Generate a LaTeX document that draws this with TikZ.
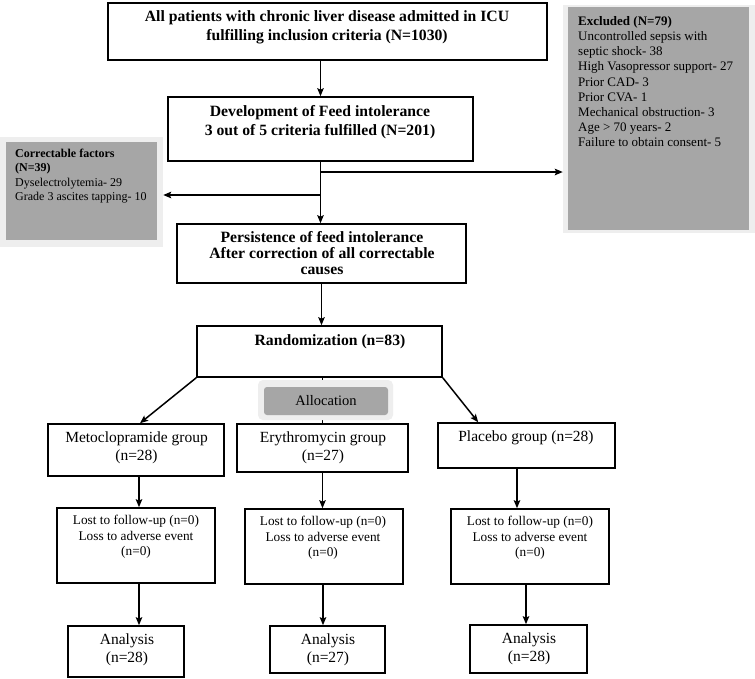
\documentclass[tikz,border=0pt]{standalone}
\usepackage{fontspec}
\setmainfont{Liberation Serif}
\usetikzlibrary{arrows.meta,calc}
\definecolor{boxgray}{HTML}{A6A6A6}
\definecolor{framegray}{HTML}{EEEEEE}
\begin{document}
\begin{tikzpicture}[x=1pt,y=-1pt,
  box/.style={draw, line width=1.6pt, inner sep=0pt},
  arr/.style={line width=1.5pt, -{Stealth[length=8pt,width=6.5pt,inset=1.5pt]}},
  ln/.style={line width=1.5pt},
  framebox/.style={fill=framegray, draw=none, inner sep=0pt},
  graybox/.style={fill=boxgray, draw=none, inner sep=0pt},
  hb/.style={font=\fontsize{15.7}{19}\selectfont\bfseries, align=center, inner sep=0pt},
  hp/.style={font=\fontsize{15.7}{16}\selectfont\bfseries, align=center, inner sep=0pt},
  tg/.style={font=\fontsize{15.5}{18}\selectfont, align=center, inner sep=0pt},
  tl/.style={font=\fontsize{13.3}{15.5}\selectfont, align=center, inner sep=0pt},
  ts/.style={font=\fontsize{13}{15.2}\selectfont, align=left, inner sep=0pt, anchor=north west},
  tc/.style={font=\fontsize{12}{14.5}\selectfont, align=left, inner sep=0pt, anchor=north west},
  ta/.style={font=\fontsize{14.5}{17}\selectfont, inner sep=0pt}
]
\useasboundingbox[fill=white] (0,0) rectangle (755,678);

% main boxes
\node[box, minimum width=439pt, minimum height=57pt] (top) at (327.5,31.5) {};
\node[hb] at (327,27.5) {All patients with chronic liver disease admitted in ICU\\fulfilling inclusion criteria (N=1030)};

\node[box, minimum width=305pt, minimum height=64pt] (dev) at (320.5,129) {};
\node[hb] at (320,122.5) {Development of Feed intolerance\\3 out of 5 criteria fulfilled (N=201)};

\node[box, minimum width=289pt, minimum height=59pt] (pers) at (321.5,253.5) {};
\node[hp] at (322,253) {Persistence of feed intolerance\\After correction of all correctable\\causes};

\node[box, minimum width=245pt, minimum height=51pt] (rand) at (319.5,351.5) {};
\node[hb] at (330,342) {Randomization (n=83)};

% side boxes
\node[framebox, minimum width=163pt, minimum height=110pt] (corrf) at (81.5,192) {};
\node[graybox, minimum width=151pt, minimum height=98pt] (corr) at (81.5,191) {};
\node[tc] at (15,148.5) {\textbf{Correctable factors}\\\textbf{(N=39)}\\Dyselectrolytemia- 29\\Grade 3 ascites tapping- 10};

\node[framebox, minimum width=192pt, minimum height=228pt] (exclf) at (659,119) {};
\node[graybox, minimum width=181pt, minimum height=223pt] (excl) at (658.5,118.5) {};
\node[ts] at (578,16) {\textbf{Excluded (N=79)}\\Uncontrolled sepsis with\\septic shock- 38\\High Vasopressor support- 27\\Prior CAD- 3\\Prior CVA- 1\\Mechanical obstruction- 3\\Age > 70 years- 2\\Failure to obtain consent- 5};

% group boxes
\node[box, minimum width=176pt, minimum height=52pt] (meto) at (136,450) {};
\node[tg] at (136.5,448) {Metoclopramide group\\(n=28)};
\node[box, minimum width=171pt, minimum height=48pt] (ery) at (322.5,448) {};
\node[tg] at (323,448) {Erythromycin group\\(n=27)};
\node[box, minimum width=177pt, minimum height=45pt] (plac) at (526.5,445.5) {};
\node[tg] at (526,438) {Placebo group (n=28)};

% lost boxes
\node[box, minimum width=158pt, minimum height=75pt] (lost1) at (136,545.5) {};
\node[tl] at (136,537) {Lost to follow-up (n=0)\\Loss to adverse event\\(n=0)};
\node[box, minimum width=158pt, minimum height=75pt] (lost2) at (324,546.5) {};
\node[tl] at (323,538) {Lost to follow-up (n=0)\\Loss to adverse event\\(n=0)};
\node[box, minimum width=158pt, minimum height=75pt] (lost3) at (530,546.5) {};
\node[tl] at (530,538) {Lost to follow-up (n=0)\\Loss to adverse event\\(n=0)};

% analysis boxes
\node[box, minimum width=116pt, minimum height=51pt] (an1) at (126,651.5) {};
\node[tg] at (127,650) {Analysis\\(n=28)};
\node[box, minimum width=115pt, minimum height=47pt] (an2) at (327.5,649.5) {};
\node[tg] at (328,650) {Analysis\\(n=27)};
\node[box, minimum width=117pt, minimum height=48pt] (an3) at (528.5,649) {};
\node[tg] at (529,649) {Analysis\\(n=28)};

% connectors
\draw[arr] (top.south -| dev.north) -- (dev.north);
\draw[arr] (dev.south) -- (dev.south |- pers.north);
\coordinate (b1) at (320.5,172);
\coordinate (b2) at (320.5,195);
\draw[arr] (b1) -- (b1 -| exclf.west);
\draw[arr] (b2) -- (b2 -| corrf.east);
\draw[arr] (pers.south) -- (pers.south |- rand.north);

\draw[ln] (ery.north |- rand.south) -- (ery.north);
\node[framebox, rounded corners=5pt, minimum width=135pt, minimum height=40pt] (allocf) at (325.5,400) {};
\node[graybox, rounded corners=3pt, minimum width=124pt, minimum height=28pt] (alloc) at (326,401) {};
\node[ta] at (326,401) {Allocation};

\draw[arr] (rand.south west) -- ($(meto.north)+(4,0)$);
\draw[arr] (rand.south east) -- ($(plac.north west)+(41,0)$);

\coordinate (m1) at ($(meto.south)+(3,0)$);
\coordinate (e1) at (ery.south);
\coordinate (p1) at ($(plac.south)+(-9.5,0)$);
\draw[arr] (m1) -- (m1 |- lost1.north);
\draw[arr] (e1) -- (e1 |- lost2.north);
\draw[arr] (p1) -- (p1 |- lost3.north);

\coordinate (m2) at ($(lost1.south)+(3,0)$);
\coordinate (e2) at ($(lost2.south)+(-1,0)$);
\coordinate (p2) at ($(lost3.south)+(-4,0)$);
\draw[arr] (m2) -- (m2 |- an1.north);
\draw[arr] (e2) -- (e2 |- an2.north);
\draw[arr] (p2) -- (p2 |- an3.north);
\end{tikzpicture}
\end{document}
